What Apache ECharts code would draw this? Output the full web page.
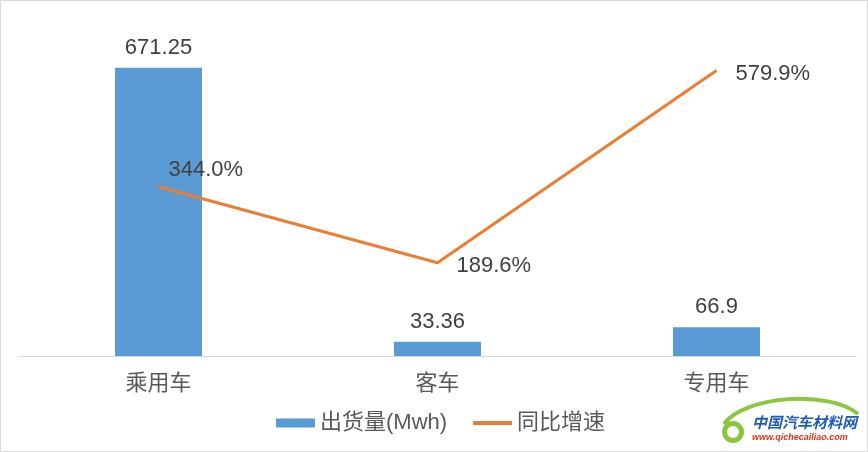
<!DOCTYPE html>
<html><head><meta charset="utf-8">
<script src="https://cdn.jsdelivr.net/npm/echarts@6/dist/echarts.min.js"></script>
<style>html,body{margin:0;padding:0;background:#fff}#c{width:868px;height:452px}</style>
</head><body><div id="c"></div>
<script>
var categories = ['乘用车', '客车', '专用车'];
var shipments = [671.25, 33.36, 66.9];
var growth = [344.0, 189.6, 579.9];
var seriesNames = ['出货量(Mwh)', '同比增速'];

var chart = echarts.init(document.getElementById('c'), null, {renderer: 'canvas'});
var font = 'Arial, "Liberation Sans", "Noto Sans CJK SC", sans-serif';
var lineData = growth.map(function (v, i) {
  var d = {value: v};
  if (i === 0) d.label = {distance: 10, offset: [0, -17]};
  else d.label = {offset: [0, 3]};
  return d;
});
chart.setOption({
  animation: false,
  backgroundColor: '#fff',
  textStyle: {fontFamily: font},
  grid: {left: 19, right: 12, top: 10, bottom: 96},
  legend: {
    left: 276, top: 412, padding: 0, itemWidth: 39, itemHeight: 9, itemGap: 26,
    textStyle: {fontSize: 22, color: '#595959', fontFamily: font},
    data: [{name: seriesNames[0], icon: 'rect'}, {name: seriesNames[1], icon: 'path://M0,0 H40 V4 H0 Z'}]
  },
  xAxis: {
    type: 'category', data: categories,
    axisTick: {show: false},
    axisLine: {lineStyle: {color: '#d9d9d9', width: 1}},
    axisLabel: {fontSize: 22, color: '#595959', margin: 17, fontFamily: font}
  },
  yAxis: [
    {type: 'value', min: 0, max: 806, show: false, splitLine: {show: false}},
    {type: 'value', min: 0, max: 703, show: false, splitLine: {show: false}}
  ],
  series: [
    {
      name: seriesNames[0], type: 'bar', data: shipments, barWidth: 87,
      itemStyle: {color: '#5B9BD5'},
      label: {show: true, position: 'top', distance: 9, fontSize: 22, color: '#404040', fontFamily: font}
    },
    {
      name: seriesNames[1], type: 'line', yAxisIndex: 1, data: lineData,
      symbol: 'circle', symbolSize: 0.01, showSymbol: true,
      lineStyle: {color: '#ED7D31', width: 3}, itemStyle: {color: '#ED7D31'},
      label: {show: true, position: 'right', distance: 19, fontSize: 22, color: '#404040', fontFamily: font,
        formatter: function (p) { return p.value.toFixed(1) + '%'; }}
    }
  ],
  graphic: [
    {type: 'rect', shape: {x: 0.5, y: 0.5, width: 867, height: 451}, style: {fill: 'none', stroke: '#d9d9d9', lineWidth: 1}, silent: true},
    {type: 'bezierCurve', shape: {x1: 724, y1: 424, cpx1: 745, cpy1: 395, cpx2: 830, cpy2: 390, x2: 858, y2: 414}, style: {stroke: '#8cc63f', lineWidth: 4, fill: 'none'}, silent: true},
    {type: 'ring', shape: {cx: 733, cy: 432, r: 11, r0: 6}, style: {fill: '#8cc63f'}, silent: true},
    {type: 'text', x: 752, y: 415, style: {text: '中国汽车材料网', font: 'italic bold 15px "Noto Sans CJK SC", sans-serif', fill: '#1e5bb5'}, silent: true},
    {type: 'text', x: 752, y: 433, style: {text: 'www.qichecailiao.com', font: 'italic bold 9px Arial, sans-serif', fill: '#e0301e'}, silent: true}
  ]
});
</script></body></html>
